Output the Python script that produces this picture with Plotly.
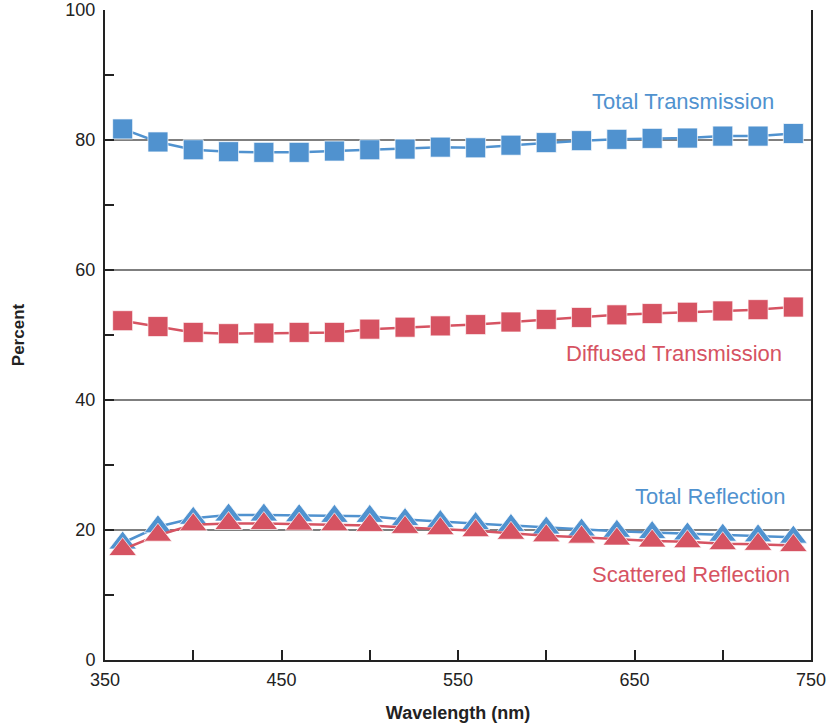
import plotly.graph_objects as go

wavelength = [360, 380, 400, 420, 440, 460, 480, 500, 520, 540,
              560, 580, 600, 620, 640, 660, 680, 700, 720, 740]
total_transmission = [81.7, 79.7, 78.5, 78.2, 78.1, 78.1, 78.3, 78.5, 78.6, 78.9,
                      78.8, 79.2, 79.6, 79.9, 80.1, 80.25, 80.3, 80.6, 80.6, 81.0]
diffused_transmission = [52.2, 51.3, 50.4, 50.2, 50.3, 50.4, 50.4, 50.9, 51.2, 51.4,
                         51.6, 52.0, 52.4, 52.7, 53.1, 53.3, 53.5, 53.7, 53.9, 54.3]
total_reflection = [18.0, 20.5, 21.8, 22.3, 22.3, 22.2, 22.1, 22.1, 21.6, 21.3,
                    21.0, 20.7, 20.3, 20.0, 19.8, 19.6, 19.4, 19.2, 19.1, 18.9]
scattered_reflection = [17.0, 19.2, 20.8, 21.0, 21.0, 20.9, 20.8, 20.7, 20.4, 20.2,
                        19.9, 19.5, 19.1, 18.9, 18.6, 18.3, 18.2, 17.9, 17.8, 17.6]

x_tickvals = [350, 400, 450, 500, 550, 600, 650, 700, 750]
x_ticktext = ["350", "", "450", "", "550", "", "650", "", "750"]
y_tickvals = [0, 10, 20, 30, 40, 50, 60, 70, 80, 90, 100]
y_ticktext = ["0", "", "20", "", "40", "", "60", "", "80", "", "100"]
grid_values = [20, 40, 60, 80]

BLUE = "rgb(80,146,207)"
RED = "rgb(214,83,98)"
FONT = "Liberation Sans, Arial, sans-serif"

fig = go.Figure()

def add(y, color, symbol, size, name):
    fig.add_trace(go.Scatter(
        x=wavelength, y=y, mode="lines+markers", name=name,
        line=dict(color=color, width=2.5),
        marker=dict(symbol=symbol, size=size, color=color,
                    line=dict(color="rgba(255,255,255,0.7)", width=1)),
        showlegend=False))

add(total_transmission, BLUE, "square", 20, "Total Transmission")
add(diffused_transmission, RED, "square", 20, "Diffused Transmission")
add(total_reflection, BLUE, "triangle-up", 24, "Total Reflection")
add(scattered_reflection, RED, "triangle-up", 24, "Scattered Reflection")

for g in grid_values:
    fig.add_shape(type="line", xref="paper", x0=0, x1=1, yref="y", y0=g, y1=g,
                  line=dict(color="black", width=1.2), layer="below")

labels = [
    ("Total Transmission", 677.6, 86.0, BLUE),
    ("Diffused Transmission", 672.5, 47.2, RED),
    ("Total Reflection", 692.9, 25.1, BLUE),
    ("Scattered Reflection", 682.1, 13.1, RED),
]
for text, xv, yv, c in labels:
    fig.add_annotation(x=xv, y=yv, text=text, showarrow=False, xref="x", yref="y",
                       font=dict(color=c, size=22, family=FONT))

fig.update_layout(
    width=827, height=723,
    margin=dict(l=105, r=16, t=10, b=63),
    plot_bgcolor="white", paper_bgcolor="white",
    font=dict(family=FONT, color="#222"),
    xaxis=dict(range=[350, 750], tickvals=x_tickvals, ticktext=x_ticktext,
               ticks="inside", ticklen=10, tickwidth=1.5, tickcolor="#222",
               showline=True, linecolor="#222", linewidth=2, showgrid=False,
               zeroline=False, tickfont=dict(size=18), automargin=False,
               ticklabelstandoff=2,
               title=dict(text="<b>Wavelength (nm)</b>", font=dict(size=18), standoff=19)),
    yaxis=dict(range=[0, 100], tickvals=y_tickvals, ticktext=y_ticktext,
               ticks="inside", ticklen=9, tickwidth=1.5, tickcolor="#222",
               showline=True, linecolor="#222", linewidth=2, mirror=True,
               showgrid=False, zeroline=False, tickfont=dict(size=18), automargin=False,
               ticklabelstandoff=4,
               title=dict(text="<b>Percent</b>", font=dict(size=17), standoff=36)),
)

fig.write_html("out.html", config={"displayModeBar": False},
               post_script="document.body.style.margin='0';document.body.style.overflow='hidden';")
